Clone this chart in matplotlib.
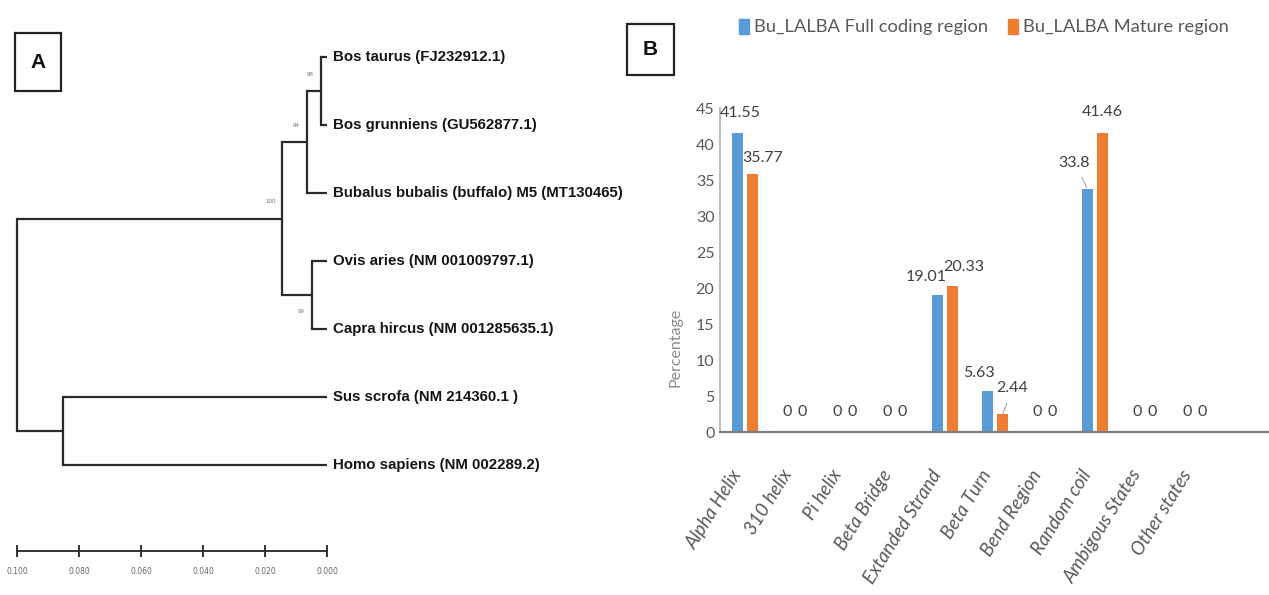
import matplotlib
matplotlib.use("Agg")
import matplotlib.pyplot as plt
from matplotlib.patches import Rectangle
from matplotlib.ticker import FixedLocator, NullLocator

# ---------------- data: phylogenetic tree (panel A) ----------------
leaf_names = [
    "Bos taurus (FJ232912.1)",
    "Bos grunniens (GU562877.1)",
    "Bubalus bubalis (buffalo) M5 (MT130465)",
    "Ovis aries (NM 001009797.1)",
    "Capra hircus (NM 001285635.1)",
    "Sus scrofa (NM 214360.1 )",
    "Homo sapiens (NM 002289.2)",
]
# internal nodes: name -> (children, node height, bootstrap support)
tree_nodes = {
    "bos":      (["Bos taurus (FJ232912.1)", "Bos grunniens (GU562877.1)"], 0.0019, "98"),
    "bovini":   (["bos", "Bubalus bubalis (buffalo) M5 (MT130465)"], 0.0065, "94"),
    "caprini":  (["Ovis aries (NM 001009797.1)", "Capra hircus (NM 001285635.1)"], 0.0048, "99"),
    "bovidae":  (["bovini", "caprini"], 0.0145, "100"),
    "outgroup": (["Sus scrofa (NM 214360.1 )", "Homo sapiens (NM 002289.2)"], 0.0852, ""),
    "root":     (["bovidae", "outgroup"], 0.1000, ""),
}
scale_ticks = [0.100, 0.080, 0.060, 0.040, 0.020, 0.000]

# ---------------- data: secondary structure (panel B) ----------------
structures = ["Alpha Helix", "310 helix", "Pi helix", "Beta Bridge", "Extanded Strand",
              "Beta Turn", "Bend Region", "Random coil", "Ambigous States", "Other states"]
full_coding = [41.55, 0, 0, 0, 19.01, 5.63, 0, 33.8, 0, 0]
mature = [35.77, 0, 0, 0, 20.33, 2.44, 0, 41.46, 0, 0]
series_names = ["Bu_LALBA Full coding region", "Bu_LALBA Mature region"]
y_ticks = [0, 5, 10, 15, 20, 25, 30, 35, 40, 45]

# ---------------- figure ----------------
W, H = 1269, 595
fig = plt.figure(figsize=(W / 100, H / 100), dpi=100)
fig.patch.set_facecolor("white")


def fx(px):
    return px / W


def fy(py):
    return 1 - py / H


soft = ["Lato", "DejaVu Sans"]
arial = ["Liberation Sans", "DejaVu Sans"]

# panel letter boxes
for letter, (x0, y0, x1, y1) in {"A": (15, 33, 61, 91), "B": (627, 24, 674, 75)}.items():
    fig.patches.append(Rectangle((fx(x0), fy(y1)), fx(x1 - x0), (y1 - y0) / H,
                                 transform=fig.transFigure, fill=False,
                                 edgecolor="#222222", lw=1.6))
    fig.text(fx((x0 + x1) / 2), fy((y0 + y1) / 2), letter, ha="center", va="center",
             fontsize=15, fontweight="bold", family=arial, color="#111111")

# ---------------- panel A: tree ----------------
ax_t = fig.add_axes([fx(17), fy(499), fx(310), (499 - 23) / H])
ax_t.set_xlim(0.1, 0.0)
ax_t.set_ylim(len(leaf_names) - 0.5, -0.5)
ax_t.axis("off")

tree_color = "#2a2a2a"
tree_lw = 1.6


def place(name):
    """Return (y, height) of a node, drawing its subtree."""
    if name in leaf_names:
        return leaf_names.index(name), 0.0
    children, h, support = tree_nodes[name]
    pos = [place(c) for c in children]
    ys = [p[0] for p in pos]
    for cy, ch in pos:
        ax_t.plot([h, ch], [cy, cy], color=tree_color, lw=tree_lw,
                  solid_capstyle="butt", clip_on=False)
    ax_t.plot([h, h], [min(ys), max(ys)], color=tree_color, lw=tree_lw,
              solid_capstyle="projecting", clip_on=False)
    y = sum(ys) / len(ys)
    if support:
        below = name == "caprini"
        ax_t.annotate(support, (h, y), xytext=(-8, -12 if below else 12),
                      textcoords="offset points", ha="center", va="center",
                      fontsize=4.5, color="#777777", family=arial)
    return y, h


place("root")

for i, name in enumerate(leaf_names):
    ax_t.annotate(name, (0.0, i), xytext=(4.5, 0), textcoords="offset points",
                  ha="left", va="center", fontsize=10.8, fontweight="bold",
                  family=arial, color="#151515", annotation_clip=False)

# scale bar
ax_s = fig.add_axes([fx(17), fy(551), fx(310), 0.0005])
ax_s.set_xlim(0.1, 0.0)
for side in ("left", "right", "top"):
    ax_s.spines[side].set_visible(False)
ax_s.spines["bottom"].set_color("#333333")
ax_s.spines["bottom"].set_linewidth(1.4)
ax_s.yaxis.set_major_locator(NullLocator())
ax_s.xaxis.set_major_locator(FixedLocator(scale_ticks))
ax_s.set_xticklabels([f"{t:.3f}" for t in scale_ticks])
ax_s.tick_params(axis="x", direction="inout", length=9, width=1.4, color="#333333",
                 labelsize=5.5, labelcolor="#666666", pad=7)
ax_s.patch.set_visible(False)

# ---------------- panel B: grouped bars ----------------
left_px, step_px = 720, 50.0
ax = fig.add_axes([fx(left_px), fy(432), fx(1269 - left_px), (432 - 108) / H])
x = list(range(len(structures)))
bw = 0.23
off = 0.15
blue, orange = "#5B9BD5", "#ED7D31"
b1 = ax.bar([i - off for i in x], full_coding, width=bw, color=blue, zorder=2)
b2 = ax.bar([i + off for i in x], mature, width=bw, color=orange, zorder=2)
ax.set_xlim(-0.5, (1269 - left_px) / step_px - 0.5)
ax.set_ylim(0, 45)

for side in ("right", "top"):
    ax.spines[side].set_visible(False)
ax.spines["left"].set_color("#BFBFBF")
ax.spines["left"].set_linewidth(1.5)
ax.spines["bottom"].set_color("#7F7F7F")
ax.spines["bottom"].set_linewidth(1.6)
ax.set_yticks(y_ticks)
ax.tick_params(axis="y", length=0, labelsize=11.5, labelcolor="#595959", pad=4)
for lab in ax.get_yticklabels():
    lab.set_family(soft)
ax.set_xticks(x)
ax.set_xticklabels(structures, rotation=58, ha="right", va="top", rotation_mode="default",
                   fontsize=13.5, style="italic", color="#595959", family=soft)
ax.tick_params(axis="x", length=0, pad=25)
ax.set_ylabel("Percentage", fontsize=11.5, color="#8C8C8C", family=soft)
ax.yaxis.set_label_coords(-0.068, 0.26)

# data labels (offsets in pixels: dx, dy above bar top; leader flag)
label_style = {
    (0, 0): (3, 20, False), (0, 1): (10, 16, False),
    (4, 0): (-11, 18, False), (4, 1): (11, 19, False),
    (5, 0): (-9, 18, False), (5, 1): (10, 26, True),
    (7, 0): (-13, 26, True), (7, 1): (0, 21, False),
}
for s, (bars, vals) in enumerate([(b1, full_coding), (b2, mature)]):
    for i, (bar, v) in enumerate(zip(bars, vals)):
        dx, dy, leader = label_style.get((i, s), (0, 20, False))
        txt = f"{v:g}"
        kw = {}
        if leader:
            kw["arrowprops"] = dict(arrowstyle="-", color="#A6A6A6", lw=0.8,
                                    shrinkA=4, shrinkB=1)
        ax.annotate(txt, (bar.get_x() + bar.get_width() / 2, v),
                    xytext=(dx * 0.72, dy * 0.72), textcoords="offset points",
                    ha="center", va="center", fontsize=11.5, color="#404040",
                    family=soft, annotation_clip=False, **kw)

handles = [Rectangle((0, 0), 1, 1, color=blue), Rectangle((0, 0), 1, 1, color=orange)]
fig.legend(handles, series_names, loc="center", bbox_to_anchor=(fx(984), fy(27)),
           ncol=2, frameon=False, handlelength=0.55, handleheight=0.9, handletextpad=0.25,
           columnspacing=1.1, prop={"family": soft, "size": 13.2},
           labelcolor="#595959")

fig.savefig("out.png", dpi=100, facecolor="white")
